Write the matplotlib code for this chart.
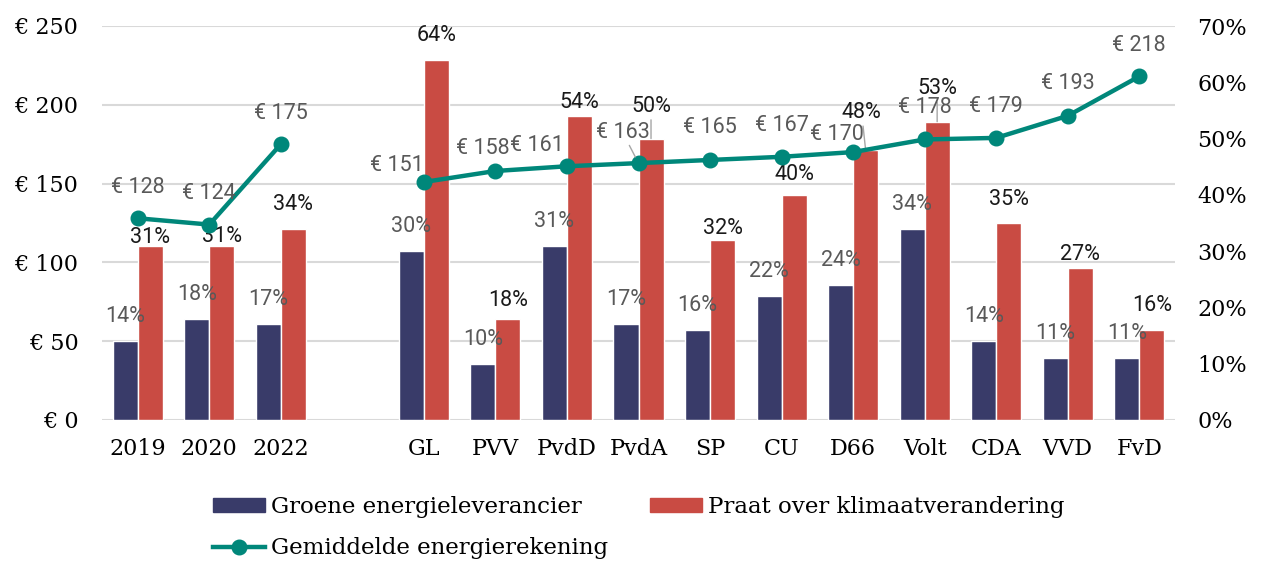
import matplotlib
matplotlib.use("Agg")
import matplotlib.pyplot as plt
from matplotlib.lines import Line2D
from matplotlib.patches import Patch
import numpy as np

categories = ["2019", "2020", "2022", "", "GL", "PVV", "PvdD", "PvdA", "SP", "CU",
              "D66", "Volt", "CDA", "VVD", "FvD"]
groen = [14, 18, 17, np.nan, 30, 10, 31, 17, 16, 22, 24, 34, 14, 11, 11]
klimaat = [31, 31, 34, np.nan, 64, 18, 54, 50, 32, 40, 48, 53, 35, 27, 16]
rekening = [128, 124, 175, np.nan, 151, 158, 161, 163, 165, 167, 170, 178, 179, 193, 218]

c_blue = "#393B69"
c_red = "#C94B43"
c_teal = "#00877A"
c_grid = "#D9D9D9"
c_lab = "#595959"

serif = "DejaVu Serif"
sans = "Roboto"
PX = 0.72  # px -> points at dpi 100
fs_tick = 16
fs_lab = 15.5

fig = plt.figure(figsize=(12.67, 5.65), dpi=100)
ax = fig.add_axes([102/1267, 1-420/565, 1073/1267, 394/565])
ax2 = ax.twinx()
ax3 = ax.twinx()

x = np.arange(len(categories))
w = 0.35

# left axis: euro + grid
ax.set_xlim(-0.5, len(categories)-0.5)
ax.set_ylim(0, 250)
ax.set_yticks(np.arange(0, 251, 50))
ax.set_yticklabels(["€ %d" % v for v in range(0, 251, 50)], fontfamily=serif, fontsize=fs_tick)
ax.grid(axis="y", color=c_grid, lw=1.5)
ax.set_axisbelow(True)
ax.set_xticks([i for i in x if categories[i]])
ax.set_xticklabels([c for c in categories if c], fontfamily=serif, fontsize=fs_tick)
ax.tick_params(axis="x", length=0, pad=13)
ax.tick_params(axis="y", length=0, pad=17)
for s in ax.spines.values():
    s.set_visible(False)

# right axis: percent bars
ax2.set_ylim(0, 70)
ax2.set_yticks(np.arange(0, 71, 10))
ax2.set_yticklabels(["%d%%" % v for v in range(0, 71, 10)], fontfamily=serif, fontsize=fs_tick)
ax2.tick_params(axis="y", length=0, pad=16)
for s in ax2.spines.values():
    s.set_visible(False)

ax2.bar(x - w/2, groen, w, color=c_blue, edgecolor="white", lw=1)
ax2.bar(x + w/2, klimaat, w, color=c_red, edgecolor="white", lw=1)

# bar labels (offsets in px above bar top)
red_off = {0: 8, 1: 9, 5: 18, 6: 14, 7: 32, 8: 11, 9: 20, 10: 37, 11: 33, 13: 14}
red_dx = {10: -4}
red_leader = [7, 10, 11]
for i in x:
    if np.isnan(groen[i]):
        continue
    ax2.annotate("%d%%" % groen[i], (x[i] - w/2, groen[i]), xytext=(0, 24.5*PX),
                 textcoords="offset points", ha="center", va="center",
                 fontfamily=sans, fontsize=fs_lab, color=c_lab)
    kw = {}
    if i in red_leader:
        kw["arrowprops"] = dict(arrowstyle="-", color="#A6A6A6", lw=1, shrinkA=0, shrinkB=0)
    ax2.annotate("%d%%" % klimaat[i], (x[i] + w/2, klimaat[i]),
                 xytext=(red_dx.get(i, 0)*PX, red_off.get(i, 24)*PX),
                 textcoords="offset points", ha="center", va="center",
                 fontfamily=sans, fontsize=fs_lab, color="#1A1A1A", **kw)

# line on top
ax3.set_ylim(0, 250)
ax3.axis("off")
ax3.plot(x, rekening, color=c_teal, lw=3.2, marker="o", ms=10.5, solid_capstyle="round")
line_off = {4: (-27, 17), 5: (-13, 22), 6: (-30, 21), 7: (-16, 31), 8: (0, 32),
            10: (-16, 18), 11: (0, 32), 13: (0, 32)}
for i in x:
    if np.isnan(rekening[i]):
        continue
    dx, dy = line_off.get(i, (0, 31))
    kw = {}
    if i == 7:
        kw["arrowprops"] = dict(arrowstyle="-", color="#A6A6A6", lw=1, shrinkA=0, shrinkB=5)
    ax3.annotate("€ %d" % rekening[i], (x[i], rekening[i]), xytext=(dx*PX, dy*PX),
                 textcoords="offset points", ha="center", va="center",
                 fontfamily=sans, fontsize=fs_lab, color=c_lab, **kw)

# column-major order so the line entry lands on row 2
handles = [Patch(color=c_blue),
           Line2D([], [], color=c_teal, lw=3.2, marker="o", ms=10.5),
           Patch(color=c_red)]
labels = ["Groene energieleverancier", "Gemiddelde energierekening",
          "Praat over klimaatverandering"]
fig.legend(handles, labels, loc="upper left", bbox_to_anchor=(213/1267, 1-496/565),
           ncol=2, frameon=False, prop={"family": serif, "size": 16.5},
           handlelength=2.27, handleheight=0.52, handletextpad=0.25,
           columnspacing=1.85, labelspacing=0.85, borderpad=0, borderaxespad=0)

fig.savefig("out.png", dpi=100)
